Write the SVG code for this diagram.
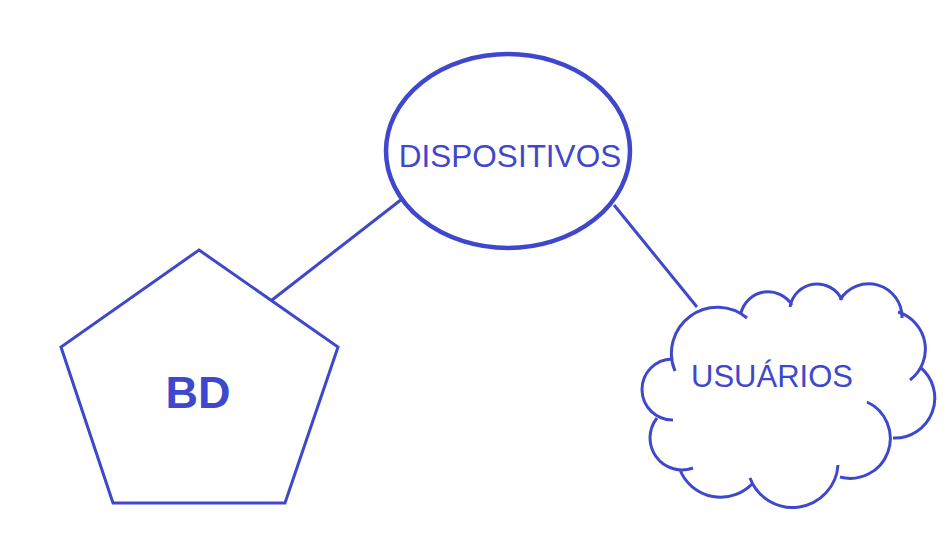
<svg xmlns="http://www.w3.org/2000/svg" width="952" height="535" viewBox="0 0 952 535">
<style>
.s{fill:none;stroke:#3F48CC;stroke-width:3;stroke-linecap:butt}
.t{font-family:"Liberation Sans",Arial,sans-serif;fill:#3F48CC;text-anchor:middle}
</style>
<rect width="952" height="535" fill="#fff"/>
<g id="connectors">
<line class="s" x1="272" y1="300" x2="402" y2="199"/>
<line class="s" x1="614" y1="205" x2="697" y2="307"/>
</g>
<g id="dispositivos">
<ellipse cx="508" cy="151" rx="122" ry="97" fill="none" stroke="#3F48CC" stroke-width="4.5"/>
<text class="t" x="510" y="167" font-size="31.5">DISPOSITIVOS</text>
</g>
<g id="bd">
<polygon class="s" points="199,250 338,347 285,503 113,503 61,347"/>
<text class="t" x="198" y="408" font-size="45" font-weight="bold">BD</text>
</g>
<g id="usuarios">
<path class="s" d="M675,371 A46,46 0 0 1 747,318
M741,313 A28,28 0 0 1 792,305
M790,307 A27.4,27.4 0 0 1 842,300
M840,300 A33.4,33.4 0 0 1 902,318
M898,312 A38.8,38.8 0 0 1 910,380
M920,367 A40,40 0 0 1 893,438
M867,402 A40,40 0 0 1 840,477
M838,465 A45.5,45.5 0 0 1 750,478
M753,483 A44,44 0 0 1 680,470
M693,468 A32,32 0 0 1 657,418
M673,420 A30.5,30.5 0 0 1 672,359"/>
<text class="t" x="772" y="387" font-size="31">USUÁRIOS</text>
</g>
</svg>
